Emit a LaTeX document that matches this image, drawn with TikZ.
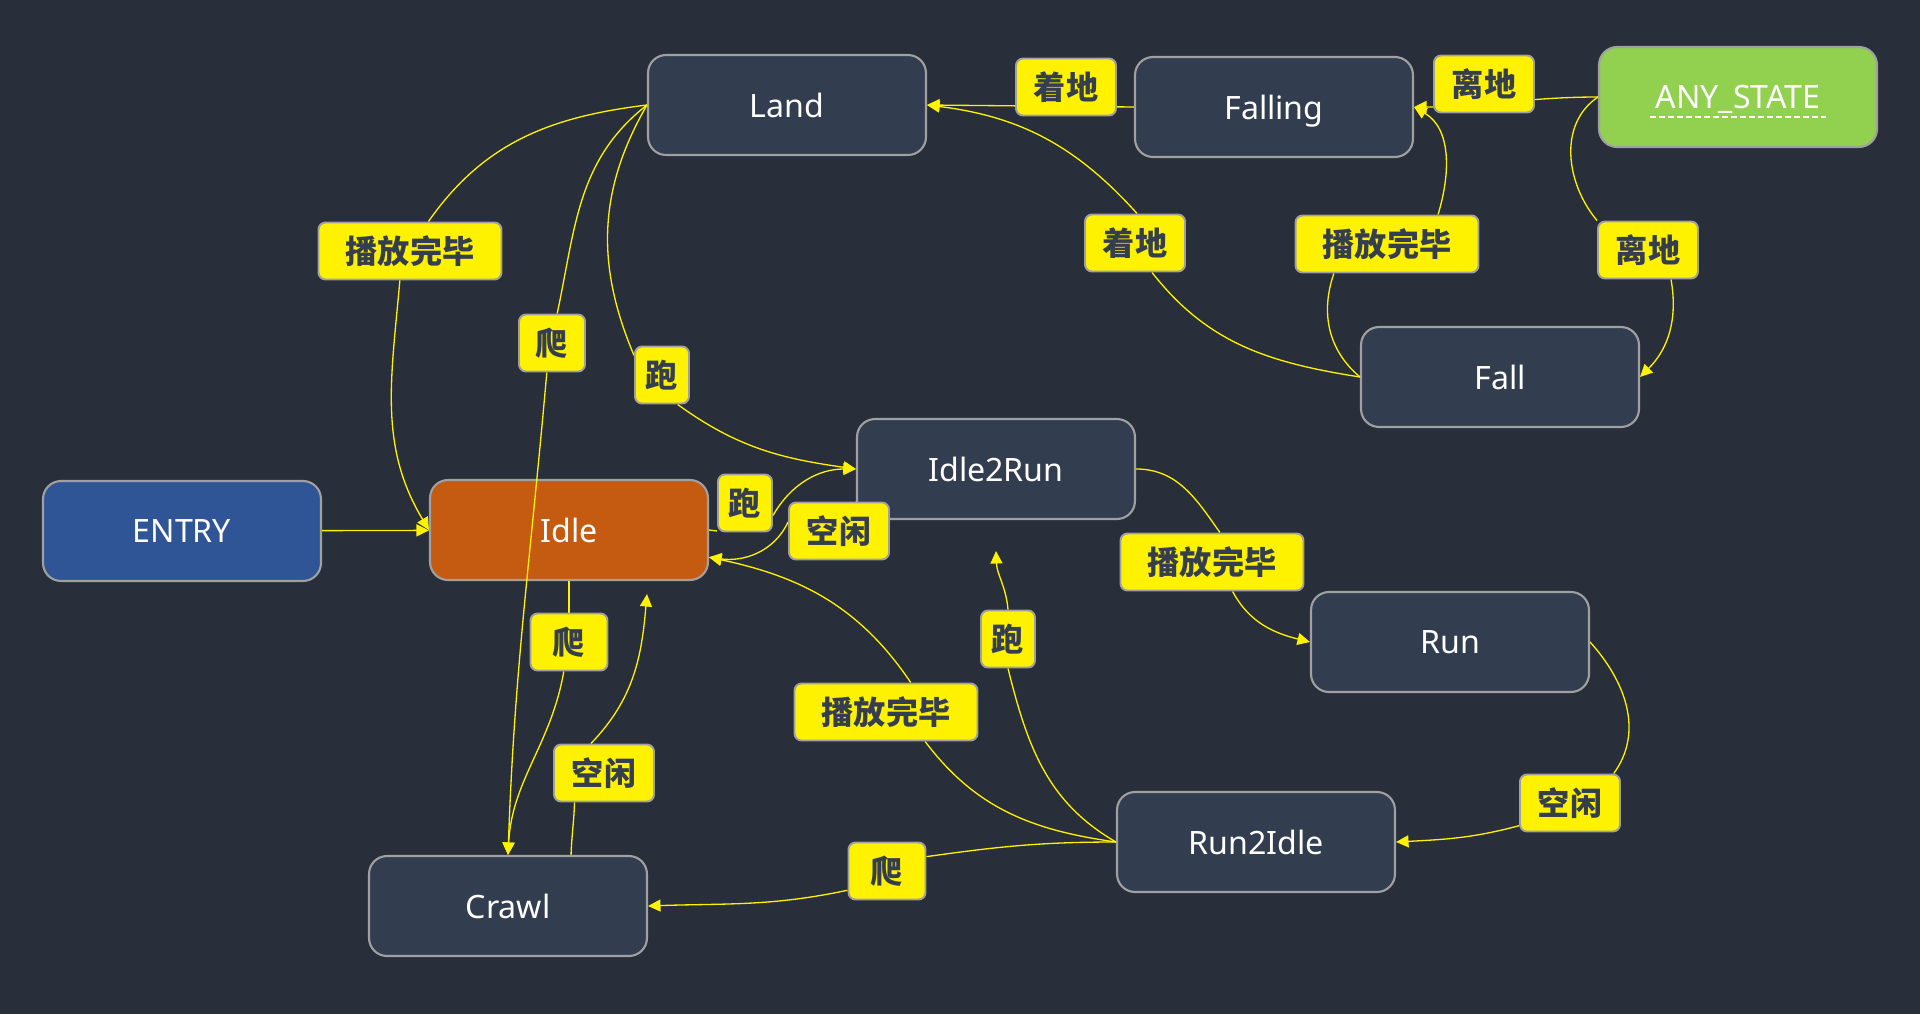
\documentclass[tikz,border=0pt]{standalone}
\usepackage{fontspec}
\setmainfont{Noto Sans}
\newfontfamily\cjk{Noto Sans CJK SC}
\usepackage{tikz}
\usetikzlibrary{arrows.meta}
\definecolor{bgcol}{HTML}{292F3A}
\definecolor{statecol}{HTML}{333D50}
\definecolor{framecol}{HTML}{A0A0A0}
\definecolor{entrycol}{HTML}{2F5597}
\definecolor{idlecol}{HTML}{C55A11}
\definecolor{anycol}{HTML}{92D050}
\definecolor{condtext}{HTML}{353E4E}
\pgfdeclarelayer{front}
\pgfsetlayers{main,front}

\begin{document}
\begin{tikzpicture}[->, >={Triangle[length=0.25cm,width=0.24cm]}, x=0.02cm, y=0.02cm]
\tikzstyle{statebox}=[draw=framecol, fill=statecol, line width=1.2pt, rounded corners=0.36cm, minimum width=5.56cm, minimum height=2cm, text=white, text depth=0pt, font=\fontsize{18.3}{22}\selectfont]
\tikzstyle{cond}=[draw=framecol, fill=yellow, line width=1.1pt, rounded corners=0.14cm, minimum height=1.14cm, minimum width=2cm, inner xsep=0.1cm, text=condtext, font=\cjk\bfseries\fontsize{18.3}{22}\selectfont]
\tikzstyle{every edge}=[draw=yellow, line width=0.75pt]
\path[fill=bgcol, use as bounding box] (0,0) rectangle (1920,-1014);
\node[statebox, fill=entrycol] (entry) at (182,-531) {ENTRY};
\node[statebox, fill=idlecol] (idle) at (569,-530) {Idle};
\node[statebox] (land) at (787,-105) {Land};
\node[statebox] (falling) at (1274,-107) {Falling};
\node[statebox, fill=anycol] (any) at (1738,-97) {ANY\_STATE};
\node[statebox] (fall) at (1500,-377) {Fall};
\node[statebox] (idletorun) at (996,-469) {Idle2Run};
\node[statebox] (run) at (1450,-642) {Run};
\node[statebox] (runtoidle) at (1256,-842) {Run2Idle};
\node[statebox] (crawl) at (508,-906) {Crawl};
\draw[-, white, line width=1pt, dash pattern=on 0.12cm off 0.06cm] ([shift={(-88,-20)}]any.center) -- ([shift={(88,-20)}]any.center);
\begin{pgfonlayer}{front}
\node[cond] (l1) at (1066,-87) {着地};
\node[cond] (l2) at (1484,-84) {离地};
\node[cond, minimum width=3.66cm] (l3) at (410,-251) {播放完毕};
\node[cond] (l4) at (1135,-243) {着地};
\node[cond, minimum width=3.66cm] (l5) at (1387,-244) {播放完毕};
\node[cond] (l6) at (1648,-250) {离地};
\node[cond, minimum width=1.32cm] (l7) at (552,-343) {爬};
\node[cond, minimum width=1.08cm] (l8) at (662,-375) {跑};
\node[cond, minimum width=1.08cm] (l9) at (745,-503) {跑};
\node[cond] (l10) at (839,-531) {空闲};
\node[cond, minimum width=3.66cm] (l11) at (1212,-562) {播放完毕};
\node[cond, minimum width=1.54cm] (l12) at (569,-642) {爬};
\node[cond] (l13) at (604,-773) {空闲};
\node[cond, minimum width=3.66cm] (l14) at (886,-712) {播放完毕};
\node[cond, minimum width=1.08cm] (l15) at (1008,-639) {跑};
\node[cond] (l16) at (1570,-803) {空闲};
\node[cond, minimum width=1.54cm] (l17) at (887,-871) {爬};
\end{pgfonlayer}
\path
(entry) edge (idle)
(land.west) edge[-, out=187, in=55] (l3.58)
(l3.-109) edge[out=-95, in=121] (idle.west)
(land.west) edge[-, out=218, in=78] (l7.80)
(l7.-100) edge[out=-95, in=88] (crawl.north)
(land.west) edge[-, out=240, in=113] (l8.145)
(l8.-62) edge[out=-36, in=172] (idletorun.west)
(falling.west) edge (land.east)
(fall.west) edge[-, out=171, in=-52] (l4.-60)
(l4.86) edge[out=132, in=-7] (land.east)
(any.west) edge[out=180, in=0] (falling.east)
(fall.west) edge[-, out=140, in=-109] (l5.-151)
(l5.30) edge[out=73, in=-30] (falling.east)
(any.west) edge[-, out=214, in=130] (l6.north west)
(l6.-52) edge[out=-80, in=45] (fall.east)
(idle.east) edge[-] (l9.-135)
(l9.-24) edge[out=60, in=180] (idletorun.west)
(idletorun.193) edge[-] (l10)
(l10.170) edge[out=245, in=-8] (idle.-11)
(idletorun.east) edge[-, out=0, in=125] (l11.75)
(l11.-55) edge[out=-62, in=166] (run.west)
(idle.south) edge[-] (l12)
(l12.-100) edge[out=-100, in=87] (crawl.north)
(crawl.39) edge[-, out=88, in=-92] (l13.-135)
(l13.114) edge[out=46, in=-95] ([shift={(78,-13)}]idle.south)
(runtoidle.west) edge[-, out=172, in=-53] (l14.-37)
(l14.50) edge[out=124, in=-12] (idle.-11)
(runtoidle.west) edge[-, out=150, in=-76] (l15.south)
(l15.north) edge[out=95, in=-88] ([shift={(0,-31)}]idletorun.south)
(run.east) edge[-, out=-48, in=54] (l16.34)
(l16.-156) edge[out=195, in=3] (runtoidle.east)
(runtoidle.west) edge[-, out=180, in=8] (l17.20)
(l17.-154) edge[out=192, in=2] (crawl.east);
\end{tikzpicture}
\end{document}
